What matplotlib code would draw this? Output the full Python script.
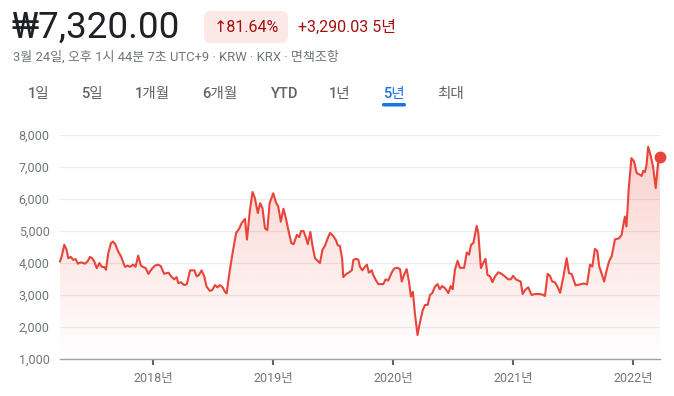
import matplotlib
matplotlib.use('Agg')
import matplotlib.pyplot as plt
import matplotlib.dates as mdates
import numpy as np
from matplotlib.patches import FancyBboxPatch
from matplotlib.transforms import IdentityTransform

# ---------------- data ----------------
dates = [
    '2017-03-24', '2017-03-29', '2017-04-06', '2017-04-13', '2017-04-18', '2017-04-26', '2017-05-03',
    '2017-05-11', '2017-05-17', '2017-05-27', '2017-06-08', '2017-06-16', '2017-06-23', '2017-06-30',
    '2017-07-06', '2017-07-14', '2017-07-22', '2017-07-29', '2017-08-05', '2017-08-11', '2017-08-18',
    '2017-08-26', '2017-09-02', '2017-09-09', '2017-09-17', '2017-09-26', '2017-10-03', '2017-10-08',
    '2017-10-16', '2017-10-23', '2017-11-02', '2017-11-09', '2017-11-17', '2017-11-25', '2017-12-01',
    '2017-12-10', '2017-12-18', '2017-12-28', '2018-01-07', '2018-01-17', '2018-01-25', '2018-02-04',
    '2018-02-17', '2018-02-27', '2018-03-07', '2018-03-14', '2018-03-19', '2018-03-27', '2018-04-06',
    '2018-04-14', '2018-04-24', '2018-05-01', '2018-05-07', '2018-05-14', '2018-05-21', '2018-05-29',
    '2018-06-06', '2018-06-13', '2018-06-23', '2018-06-30', '2018-07-09', '2018-07-16', '2018-07-24',
    '2018-08-01', '2018-08-08', '2018-08-13', '2018-08-23', '2018-09-02', '2018-09-11', '2018-09-20',
    '2018-09-28', '2018-10-08', '2018-10-14', '2018-10-23', '2018-10-31', '2018-11-07', '2018-11-16',
    '2018-11-23', '2018-11-30', '2018-12-08', '2018-12-15', '2018-12-22', '2019-01-02', '2019-01-10',
    '2019-01-17', '2019-01-25', '2019-02-02', '2019-02-09', '2019-02-17', '2019-02-26', '2019-03-05',
    '2019-03-15', '2019-03-22', '2019-03-28', '2019-04-04', '2019-04-11', '2019-04-17', '2019-04-25',
    '2019-05-01', '2019-05-09', '2019-05-19', '2019-05-24', '2019-06-01', '2019-06-08', '2019-06-17',
    '2019-06-24', '2019-07-04', '2019-07-12', '2019-07-17', '2019-07-24', '2019-07-31', '2019-08-03',
    '2019-08-13', '2019-08-21', '2019-08-29', '2019-09-03', '2019-09-13', '2019-09-18', '2019-09-23',
    '2019-09-30', '2019-10-08', '2019-10-14', '2019-10-20', '2019-10-29', '2019-11-02', '2019-11-10',
    '2019-11-18', '2019-12-03', '2019-12-10', '2019-12-18', '2019-12-28', '2020-01-05', '2020-01-16',
    '2020-01-23', '2020-01-28', '2020-02-04', '2020-02-12', '2020-02-19', '2020-02-25', '2020-03-02',
    '2020-03-08', '2020-03-16', '2020-03-23', '2020-04-01', '2020-04-08', '2020-04-16', '2020-04-23',
    '2020-04-30', '2020-05-08', '2020-05-16', '2020-05-23', '2020-05-30', '2020-06-08', '2020-06-18',
    '2020-06-25', '2020-07-01', '2020-07-08', '2020-07-16', '2020-07-23', '2020-08-05', '2020-08-13',
    '2020-08-20', '2020-08-26', '2020-09-02', '2020-09-12', '2020-09-17', '2020-09-25', '2020-10-02',
    '2020-10-09', '2020-10-15', '2020-10-23', '2020-10-30', '2020-11-07', '2020-11-17', '2020-11-27',
    '2020-12-07', '2020-12-17', '2020-12-25', '2021-01-01', '2021-01-09', '2021-01-17', '2021-01-24',
    '2021-01-30', '2021-02-06', '2021-02-16', '2021-02-26', '2021-03-08', '2021-03-24', '2021-04-03',
    '2021-04-08', '2021-04-16', '2021-04-23', '2021-04-30', '2021-05-08', '2021-05-16', '2021-05-24',
    '2021-06-03', '2021-06-13', '2021-06-20', '2021-06-28', '2021-07-10', '2021-07-23', '2021-08-05',
    '2021-08-14', '2021-08-23', '2021-08-30', '2021-09-07', '2021-09-14', '2021-09-20', '2021-09-27',
    '2021-10-05', '2021-10-13', '2021-10-20', '2021-10-28', '2021-11-07', '2021-11-19', '2021-11-27',
    '2021-12-07', '2021-12-12', '2021-12-19', '2021-12-27', '2022-01-04', '2022-01-12', '2022-01-20',
    '2022-01-27', '2022-02-01', '2022-02-06', '2022-02-11', '2022-02-16', '2022-02-24', '2022-03-03',
    '2022-03-11', '2022-03-16', '2022-03-20', '2022-03-24',
]
prices = [
    4050, 4200, 4570, 4420, 4150, 4190, 4100,
    4120, 3980, 4020, 3980, 4050, 4190, 4150,
    4050, 3840, 4000, 3880, 3880, 3790, 4310,
    4620, 4670, 4570, 4360, 4200, 4000, 3880,
    3920, 3880, 3950, 3880, 4230, 3920, 3880,
    3840, 3660, 3810, 3920, 3950, 3900, 3660,
    3700, 3560, 3490, 3560, 3370, 3400, 3310,
    3340, 3770, 3770, 3770, 3580, 3630, 3770,
    3580, 3260, 3130, 3150, 3310, 3240, 3310,
    3240, 3100, 3050, 3790, 4420, 4940, 5070,
    5250, 5380, 4730, 5660, 6220, 6030, 5560,
    5870, 5720, 5080, 5030, 5870, 6180, 5900,
    5770, 5290, 5700, 5420, 5030, 4620, 4590,
    4880, 4810, 5000, 5000, 4810, 4590, 4970,
    4560, 4150, 4050, 4000, 4420, 4530, 4780,
    4940, 4840, 4710, 4560, 4530, 4100, 3560,
    3660, 3710, 3770, 4100, 4130, 4100, 3880,
    3770, 3880, 3950, 3700, 3770, 3630, 3470,
    3340, 3340, 3490, 3450, 3690, 3830, 3850,
    3800, 3420, 3630, 3810, 3420, 2950, 3100,
    2430, 1750, 2120, 2530, 2690, 2690, 3000,
    3060, 3260, 3340, 3180, 3280, 3210, 3060,
    3280, 3180, 3790, 4070, 3850, 3850, 4330,
    4260, 4570, 4620, 5160, 4940, 3840, 4000,
    4130, 3630, 3580, 3400, 3580, 3710, 3660,
    3580, 3490, 3490, 3600, 3490, 3450, 3420,
    3030, 3150, 3240, 3000, 3030, 3030, 3000,
    2970, 3660, 3600, 3420, 3400, 3260, 3070,
    3570, 4150, 3680, 3660, 3300, 3330, 3360,
    3330, 3950, 3890, 4440, 4380, 3900, 3680,
    3420, 3790, 4050, 4210, 4740, 4770, 4880,
    5450, 5140, 6340, 7280, 7170, 6810, 6770,
    6720, 6880, 6840, 7060, 7630, 7340, 7000,
    6340, 6910, 7280, 7320,
]
x_start, x_end = '2017-03-24', '2022-03-24'
year_ticks = ['2018-01-01', '2019-01-01', '2020-01-01', '2021-01-01', '2022-01-01']
year_labels = ['2018년', '2019년', '2020년', '2021년', '2022년']
y_ticks = [1000, 2000, 3000, 4000, 5000, 6000, 7000, 8000]
tabs = ['1일', '5일', '1개월', '6개월', 'YTD', '1년', '5년', '최대']
active_tab = '5년'
price_text = '₩7,320.00'
pct_text = '↑81.64%'
change_text = '+3,290.03 5년'
info_text = '3월 24일, 오후 1시 44분 7초 UTC+9 · KRW · KRX · 면책조항'

# ---------------- style ----------------
RED = '#e8443a'
DARKRED = '#a50e0e'
GRAY = '#70757a'
FONTS = ['Roboto', 'Noto Sans CJK KR', 'DejaVu Sans']
plt.rcParams['font.family'] = FONTS

W, H = 674, 396
fig = plt.figure(figsize=(W / 100, H / 100), dpi=100)
fig.patch.set_facecolor('white')


def fx(x):
    return x / W


def fy(y):
    return 1 - y / H


# ---------------- header ----------------
fig.text(fx(12), fy(28), price_text, fontsize=26.5, color='#202124', va='center', ha='left')
pill = FancyBboxPatch((204, H - 43), 84, 32, boxstyle='round,pad=0,rounding_size=7',
                      transform=IdentityTransform(), facecolor='#fce8e6', edgecolor='none')
fig.add_artist(pill)
fig.text(fx(246), fy(27.5), pct_text, fontsize=11.5, color=DARKRED, va='center', ha='center',
         family=['Roboto', 'DejaVu Sans'])
fig.text(fx(298), fy(27.5), change_text, fontsize=11.5, color=DARKRED, va='center', ha='left')
fig.text(fx(13), fy(57.5), info_text, fontsize=9.4, color=GRAY, va='center', ha='left')

tab_x = [38.5, 92, 152.5, 220, 284.5, 339.5, 394, 450.5]
for lab, x in zip(tabs, tab_x):
    col = '#1a73e8' if lab == active_tab else '#5f6368'
    fig.text(fx(x), fy(94), lab, fontsize=10.5, color=col, va='center', ha='center',
             fontweight='medium')
    if lab == active_tab:
        ul = FancyBboxPatch((x - 12, H - 106.5), 24, 3.5, boxstyle='round,pad=0,rounding_size=1.7',
                            transform=IdentityTransform(), facecolor='#1a73e8', edgecolor='none')
        fig.add_artist(ul)

# ---------------- chart ----------------
ax = fig.add_axes([fx(60), fy(359), 600 / W, (359 - 135) / H])
xd = mdates.date2num(np.array(dates, dtype='datetime64[D]'))
yv = np.array(prices, dtype=float)
x0 = mdates.date2num(np.datetime64(x_start))
x1 = mdates.date2num(np.datetime64(x_end))

ax.set_xlim(x0, x1)
ax.set_ylim(y_ticks[0], y_ticks[-1])

# gradient fill under the line
poly = ax.fill_between(xd, yv, y_ticks[0], color='none', lw=0)
n = 256
alpha = np.linspace(0.0, 0.26, n)
rgba = np.zeros((n, 1, 4))
rgba[..., 0] = 0xea / 255
rgba[..., 1] = 0x43 / 255
rgba[..., 2] = 0x35 / 255
rgba[..., 3] = alpha[:, None]
img = ax.imshow(rgba, extent=[x0, x1, y_ticks[0], y_ticks[-1]], origin='lower',
                aspect='auto', zorder=1, interpolation='bilinear')
img.set_clip_path(poly.get_paths()[0], transform=ax.transData)

ax.plot(xd, yv, color=RED, lw=1.5, zorder=3, solid_joinstyle='round', clip_on=False)
ax.plot(xd[-1], yv[-1], 'o', color=RED, ms=7.5, zorder=4, clip_on=False)

for yt in y_ticks[1:]:
    ax.axhline(yt, color='#ebebeb', lw=0.9, zorder=0)

for s in ['top', 'right', 'left']:
    ax.spines[s].set_visible(False)
ax.spines['bottom'].set_color('#9aa0a6')
ax.spines['bottom'].set_linewidth(1.0)

ax.set_yticks(y_ticks)
ax.set_yticklabels([f'{v:,}' for v in y_ticks])
ax.tick_params(axis='y', length=0, pad=7.5, labelsize=9, labelcolor=GRAY)
ax.set_xticks(mdates.date2num(np.array(year_ticks, dtype='datetime64[D]')))
ax.set_xticklabels(year_labels)
ax.tick_params(axis='x', length=4.5, width=1.5, color='#5f6368', pad=5, labelsize=9,
               labelcolor=GRAY)

fig.savefig('out.png', dpi=100, facecolor='white')
